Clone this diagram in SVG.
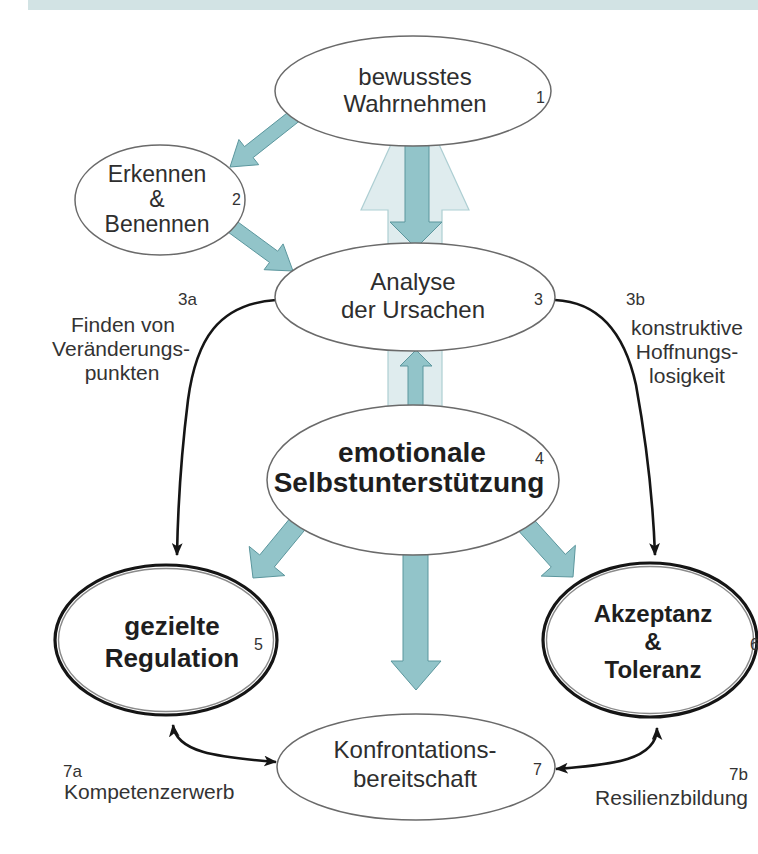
<svg xmlns="http://www.w3.org/2000/svg" width="758" height="854" viewBox="0 0 758 854">
<style>
.t{font-family:"Liberation Sans",Arial,sans-serif;fill:#2e2e2e;text-anchor:middle}
.r{font-size:24px}
.b{font-size:28px;font-weight:bold;fill:#1e1e1e}
.n{font-family:"Liberation Sans",Arial,sans-serif;font-size:16px;fill:#333}
.lab{font-family:"Liberation Sans",Arial,sans-serif;font-size:21px;fill:#333}
.ell{fill:#fff;stroke:#6a6a6a;stroke-width:1.5}
.thick{fill:#fff;stroke:#151515;stroke-width:3.2}
.inner{fill:none;stroke:#8a8a8a;stroke-width:1.4}
.blk{fill:#92c4c9;stroke:#5b969d;stroke-width:1}
.pale{fill:#dfecee;stroke:#aecfd3;stroke-width:1.2}
.cur{fill:none;stroke:#151515;stroke-width:2.6}
</style>
<defs>
<marker id="ah" viewBox="0 0 12 10" refX="11" refY="5" markerWidth="13" markerHeight="11" markerUnits="userSpaceOnUse" orient="auto-start-reverse">
<path d="M0,0 L12,5 L0,10 L3,5 z" fill="#151515"/>
</marker>
</defs>
<rect x="28" y="0" width="730" height="10" fill="#d2e3e4"/>
<g id="background-arrow">
<polygon class="pale" points="388,420 442,420 442,210 469,210 415,92 361,210 388,210"/>
</g>
<g id="connectors">
<polygon class="blk" points="304.2,117.3 253.1,157.6 258.7,164.7 230,167 238.9,139.5 244.5,146.6 295.6,106.3"/>
<polygon class="blk" points="224.8,229.7 269.5,262.4 264.1,269.7 293,271 283.1,243.9 277.7,251.2 233.0,218.4"/>
<polygon class="blk" points="405,130 429,130 429,222 442,222 416,248 390,222 405,222"/>
<polygon class="blk" points="408,420 423,420 423,366 432,366 416,350 400,366 408,366"/>
<polygon class="blk" points="308.7,525.3 274.3,567 284.8,575.6 253,578 249.2,546.4 259.7,555 294.1,513.3"/>
<polygon class="blk" points="513.3,525.0 551.25,567.07 541.2,576.1 573,577 575.4,545.3 565.35,554.33 527.3,512.2"/>
<polygon class="blk" points="403,545 428,545 428,661 441,661 416,690 391,661 403,661"/>
<path class="cur" d="M276,300 C218,304 196,340 188,400 C183,440 178,500 177,555" marker-end="url(#ah)"/>
<path class="cur" d="M555,300 C600,302 625,335 636,385 C646,440 653,500 655,555" marker-end="url(#ah)"/>
<path class="cur" d="M173,725 C176,752 215,757 276,762" marker-start="url(#ah)" marker-end="url(#ah)"/>
<path class="cur" d="M556,769 C612,765 657,760 657,728" marker-start="url(#ah)" marker-end="url(#ah)"/>
</g>
<g id="node1">
<ellipse class="ell" cx="413" cy="91" rx="138" ry="55"/>
<text class="t r" x="415" y="85">bewusstes</text>
<text class="t r" x="415" y="112">Wahrnehmen</text>
<text class="n" x="536" y="103">1</text>
</g>
<g id="node2">
<ellipse class="ell" cx="160" cy="200" rx="85" ry="55"/>
<text class="t r" style="font-size:23px" x="157" y="182">Erkennen</text>
<text class="t r" style="font-size:23px" x="157" y="207">&amp;</text>
<text class="t r" style="font-size:23px" x="157" y="232">Benennen</text>
<text class="n" x="232" y="205">2</text>
</g>
<g id="node3">
<ellipse class="ell" cx="415" cy="297" rx="140" ry="54"/>
<text class="t r" x="413" y="290">Analyse</text>
<text class="t r" x="413" y="318">der Ursachen</text>
<text class="n" x="534" y="305">3</text>
</g>
<g id="node4">
<ellipse class="ell" cx="413" cy="480" rx="146" ry="75"/>
<text class="t b" x="412" y="462">emotionale</text>
<text class="t b" x="409" y="492">Selbstunterstützung</text>
<text class="n" x="535" y="464">4</text>
</g>
<g id="node5">
<ellipse class="thick" cx="166" cy="640" rx="111" ry="75"/>
<ellipse class="inner" cx="166" cy="640" rx="107.5" ry="71.5"/>
<text class="t b" style="font-size:26px" x="172" y="635">gezielte</text>
<text class="t b" style="font-size:26px" x="172" y="667">Regulation</text>
<text class="n" x="254" y="650">5</text>
</g>
<g id="node6">
<ellipse class="thick" cx="650" cy="640" rx="107" ry="77"/>
<ellipse class="inner" cx="650" cy="640" rx="103.5" ry="73.5"/>
<text class="t b" style="font-size:24px" x="653" y="622">Akzeptanz</text>
<text class="t b" style="font-size:24px" x="653" y="650">&amp;</text>
<text class="t b" style="font-size:24px" x="653" y="678">Toleranz</text>
<text class="n" x="750" y="650">6</text>
</g>
<g id="node7">
<ellipse class="ell" cx="416" cy="767" rx="139" ry="53"/>
<text class="t r" x="415" y="758">Konfrontations-</text>
<text class="t r" x="415" y="787">bereitschaft</text>
<text class="n" x="533" y="775">7</text>
</g>
<g id="labels">
<text class="lab" style="font-size:17px" x="178" y="305">3a</text>
<text class="lab" text-anchor="middle" x="123" y="332">Finden von</text>
<text class="lab" text-anchor="middle" x="121" y="356">Veränderungs-</text>
<text class="lab" text-anchor="middle" x="122" y="380">punkten</text>
<text class="lab" style="font-size:17px" x="626" y="305">3b</text>
<text class="lab" text-anchor="middle" x="687" y="335">konstruktive</text>
<text class="lab" text-anchor="middle" x="687" y="359">Hoffnungs-</text>
<text class="lab" text-anchor="middle" x="687" y="383">losigkeit</text>
<text class="lab" style="font-size:17px" x="63" y="777">7a</text>
<text class="lab" x="64" y="799">Kompetenzerwerb</text>
<text class="lab" style="font-size:17px" text-anchor="end" x="748" y="780">7b</text>
<text class="lab" text-anchor="end" x="748" y="805">Resilienzbildung</text>
</g>
</svg>
